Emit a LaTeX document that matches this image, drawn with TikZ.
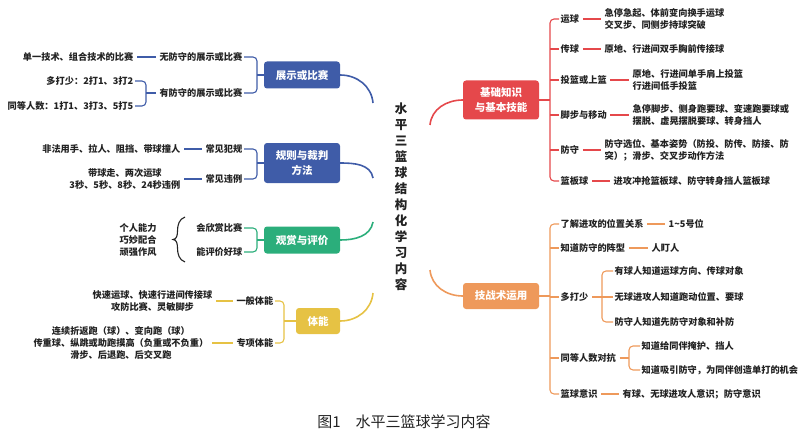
\documentclass[tikz,border=0pt]{standalone}
\usepackage{fontspec}
\setmainfont{Noto Sans CJK SC}
\usetikzlibrary{calc}
\definecolor{cblue}{HTML}{3F5CA8}
\definecolor{cgreen}{HTML}{2BAE7B}
\definecolor{cyel}{HTML}{E6C244}
\definecolor{cred}{HTML}{E5484B}
\definecolor{corg}{HTML}{EE995B}
\definecolor{ctext}{HTML}{222222}
\begin{document}
\begin{tikzpicture}[x=1pt,y=-1pt,
  txt/.style={font=\bfseries\fontsize{9.2}{12}\selectfont, text=ctext, inner sep=1.5pt},
  box/.style={rounded corners=3pt, text=white, font=\bfseries\fontsize{10.5}{15}\selectfont, align=center, inner sep=0pt},
  brk/.style={line width=1.1pt, rounded corners=4pt},
  leaf/.style={line width=1.1pt, shorten <=2pt, shorten >=2pt},
  main/.style={line width=1.6pt}
]
\useasboundingbox (0,0) rectangle (800,433);

% title
\node[font=\bfseries\fontsize{12.5}{16}\selectfont, align=center, text=ctext] (t) at (401,197)
  {水\\平\\三\\篮\\球\\结\\构\\化\\学\\习\\内\\容};

% boxes
\node[box, fill=cblue, minimum width=76pt, minimum height=27pt] (b1) at (302,75) {展示或比赛};
\node[box, fill=cblue, minimum width=76pt, minimum height=40pt] (b2) at (302,163) {规则与裁判\\方法};
\node[box, fill=cgreen, minimum width=76pt, minimum height=27pt] (b3) at (302,240) {观赏与评价};
\node[box, fill=cyel, minimum width=44pt, minimum height=26pt] (b4) at (318,321) {体能};
\node[box, fill=cred, minimum width=76pt, minimum height=39pt] (b5) at (501,100) {基础知识\\与基本技能};
\node[box, fill=corg, minimum width=76pt, minimum height=26pt] (b6) at (501,296) {技战术运用};

% main curves
\coordinate (ta1) at (373,103);
\coordinate (ta2) at (373,178);
\coordinate (ta3) at (373,222);
\coordinate (ta4) at (373,293);
\coordinate (tb1) at (430,125);
\coordinate (tb2) at (430,270);
\draw[main, cblue] (b1.east) to[out=0, in=95] (ta1);
\draw[main, cblue] (b2.east) to[out=0, in=100] (ta2);
\draw[main, cgreen] (b3.east) to[out=0, in=-100] (ta3);
\draw[main, cyel] (b4.east) to[out=0, in=-95] (ta4);
\draw[main, cred] (b5.west) to[out=180, in=85] (tb1);
\draw[main, corg] (b6.west) to[out=180, in=-85] (tb2);

% ---- 展示或比赛
\node[txt, anchor=east] (s1) at (244,57) {无防守的展示或比赛};
\node[txt, anchor=east] (s2) at (244,93) {有防守的展示或比赛};
\coordinate (m1) at (257,75);
\draw[brk, cblue] (s1.east) -| (m1) |- (s2.east);
\draw[brk, cblue] (b1.west) -- (m1);
\node[txt, anchor=east] (s11) at (135,57) {单一技术、组合技术的比赛};
\draw[leaf, cblue] (s11.east) -- (s1.west);
\node[txt, anchor=east] (s21) at (135,81) {多打少：2打1、3打2};
\node[txt, anchor=east] (s22) at (135,106) {同等人数：1打1、3打3、5打5};
\coordinate (m2) at (146,93);
\draw[brk, cblue] (s21.east) -| (m2) |- (s22.east);
\draw[brk, cblue, shorten >=2pt] (m2) -- (s2.west);

% ---- 规则与裁判方法
\node[txt, anchor=east] (r1) at (244,149) {常见犯规};
\node[txt, anchor=east] (r2) at (244,179) {常见违例};
\coordinate (m3) at (257,163);
\draw[brk, cblue] (r1.east) -| (m3) |- (r2.east);
\draw[brk, cblue] (b2.west) -- (m3);
\node[txt, anchor=east] (r11) at (182,149) {非法用手、拉人、阻挡、带球撞人};
\draw[leaf, cblue] (r11.east) -- (r1.west);
\node[txt, anchor=east, align=center] (r21) at (182,179) {带球走、两次运球\\3秒、5秒、8秒、24秒违例};
\draw[leaf, cblue] (r21.east) -- (r2.west);

% ---- 观赏与评价
\node[txt, anchor=east] (v1) at (244,228) {会欣赏比赛};
\node[txt, anchor=east] (v2) at (244,252) {能评价好球};
\coordinate (m4) at (257,240);
\draw[brk, cgreen] (v1.east) -| (m4) |- (v2.east);
\draw[brk, cgreen] (b3.west) -- (m4);
\node[txt, anchor=west, align=left] (v0) at (118,240) {个人能力\\巧妙配合\\顽强作风};
\draw[line width=1.1pt, ctext] (185,217) to[out=200, in=90] (177.5,231) to[out=-90, in=0] (173,239.5)
  to[out=0, in=90] (177.5,248) to[out=-90, in=160] (185,262);

% ---- 体能
\node[txt, anchor=east] (p1) at (275,301) {一般体能};
\node[txt, anchor=east] (p2) at (275,343) {专项体能};
\coordinate (m5) at (284,321);
\draw[brk, cyel] (p1.east) -| (m5) |- (p2.east);
\draw[brk, cyel] (b4.west) -- (m5);
\node[txt, anchor=east, align=center] (p11) at (214,301) {快速运球、快速行进间传接球\\攻防比赛、灵敏脚步};
\draw[leaf, cyel] (p11.east) -- (p1.west);
\node[txt, anchor=east, align=center] (p21) at (210,343) {连续折返跑（球）、变向跑（球）\\传重球、纵跳或助跑摸高（负重或不负重）\\滑步、后退跑、后交叉跑};
\draw[leaf, cyel] (p21.east) -- (p2.west);

% ---- 基础知识与基本技能
\coordinate (m6) at (550,100);
\node[txt, anchor=west] (k1) at (559,19) {运球};
\node[txt, anchor=west] (k2) at (559,49) {传球};
\node[txt, anchor=west] (k3) at (559,80) {投篮或上篮};
\node[txt, anchor=west] (k4) at (559,115) {脚步与移动};
\node[txt, anchor=west] (k5) at (559,150) {防守};
\node[txt, anchor=west] (k6) at (559,181) {篮板球};
\draw[brk, cred] (k1.west) -| (m6) |- (k6.west);
\draw[brk, cred] (b5.east) -- (m6);
\foreach \k in {k2,k3,k4,k5} \draw[brk, cred] (\k.west) -- (\k.west -| m6);
\node[txt, anchor=west, align=left] (k1a) at (603,19) {急停急起、体前变向换手运球\\交叉步、同侧步持球突破};
\node[txt, anchor=west] (k2a) at (603,49) {原地、行进间双手胸前传接球};
\node[txt, anchor=west, align=left] (k3a) at (631,80) {原地、行进间单手肩上投篮\\行进间低手投篮};
\node[txt, anchor=west, align=left] (k4a) at (631,115) {急停脚步、侧身跑要球、变速跑要球或\\摆脱、虚晃摆脱要球、转身挡人};
\node[txt, anchor=west, align=left] (k5a) at (603,150) {防守选位、基本姿势（防投、防传、防接、防\\突）；滑步、交叉步动作方法};
\node[txt, anchor=west] (k6a) at (612,181) {进攻冲抢篮板球、防守转身挡人篮板球};
\foreach \k in {k1,k2,k3,k4,k5,k6} \draw[leaf, cred] (\k.east) -- (\k a.west);

% ---- 技战术运用
\coordinate (m7) at (550,296);
\node[txt, anchor=west] (j1) at (559,224) {了解进攻的位置关系};
\node[txt, anchor=west] (j2) at (559,248) {知道防守的阵型};
\node[txt, anchor=west] (j3) at (559,297) {多打少};
\node[txt, anchor=west] (j4) at (559,358) {同等人数对抗};
\node[txt, anchor=west] (j5) at (559,394) {篮球意识};
\draw[brk, corg] (j1.west) -| (m7) |- (j5.west);
\draw[brk, corg] (b6.east) -- (m7);
\foreach \k in {j2,j3,j4} \draw[brk, corg] (\k.west) -- (\k.west -| m7);
\node[txt, anchor=west] (j1a) at (667,224) {1\textasciitilde5号位};
\draw[leaf, corg] (j1.east) -- (j1a.west);
\node[txt, anchor=west] (j2a) at (650,248) {人盯人};
\draw[leaf, corg] (j2.east) -- (j2a.west);
\node[txt, anchor=west] (j5a) at (621,394) {有球、无球进攻人意识；防守意识};
\draw[leaf, corg] (j5.east) -- (j5a.west);
% 多打少
\coordinate (m8) at (602,297);
\node[txt, anchor=west] (j31) at (613,271) {有球人知道运球方向、传球对象};
\node[txt, anchor=west] (j32) at (613,297) {无球进攻人知道跑动位置、要球};
\node[txt, anchor=west] (j33) at (613,322) {防守人知道先防守对象和补防};
\draw[brk, corg] (j31.west) -| (m8) |- (j33.west);
\draw[brk, corg, shorten <=2pt] (j3.east) -- (j32.west);
% 同等人数对抗
\coordinate (m9) at (629,358);
\node[txt, anchor=west] (j41) at (640,346) {知道给同伴掩护、挡人};
\node[txt, anchor=west] (j42) at (640,370) {知道吸引防守，为同伴创造单打的机会};
\draw[brk, corg] (j41.west) -| (m9) |- (j42.west);
\draw[brk, corg, shorten <=2pt] (j4.east) -- (m9);

% caption
\node[font=\fontsize{15}{16}\selectfont, text=ctext] (cap) at (404,422) {图1\hspace{1em}水平三篮球学习内容};
\end{tikzpicture}
\end{document}
